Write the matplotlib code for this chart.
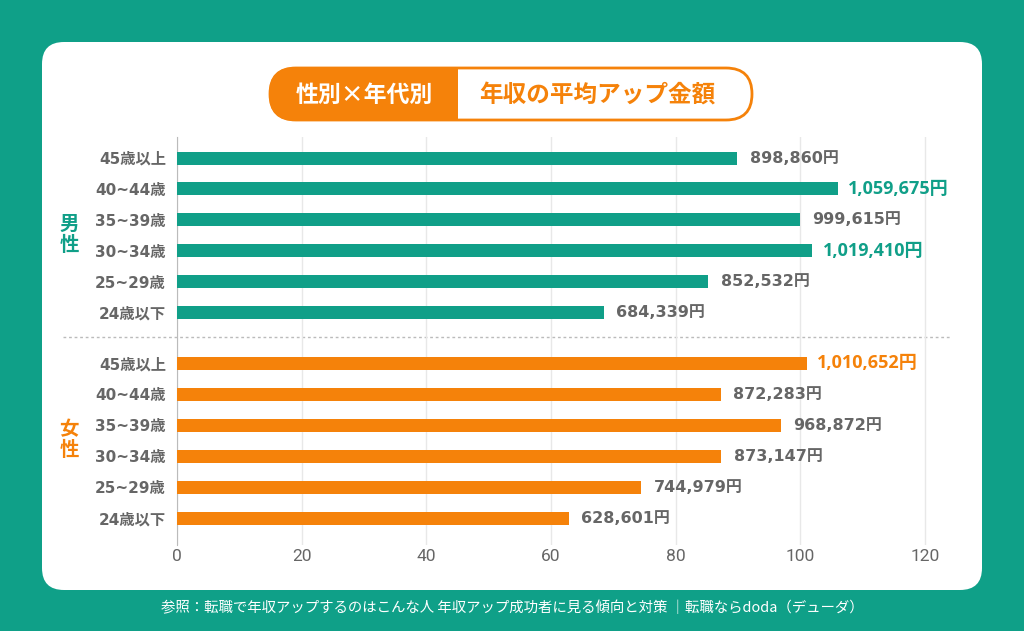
import matplotlib.pyplot as plt
from matplotlib.patches import FancyBboxPatch, Rectangle

plt.rcParams['font.family'] = ['Noto Sans CJK JP', 'DejaVu Sans']

# データ（円）
categories = ['45歳以上', '40~44歳', '35~39歳', '30~34歳', '25~29歳', '24歳以下']
male_values = [898860, 1059675, 999615, 1019410, 852532, 684339]
female_values = [1010652, 872283, 968872, 873147, 744979, 628601]
x_ticks = [0, 20, 40, 60, 80, 100, 120]

title_left = '性別×年代別'
title_right = '年収の平均アップ金額'
source = '参照：転職で年収アップするのはこんな人 年収アップ成功者に見る傾向と対策 ｜転職ならdoda（デューダ）'

teal = '#109f88'
bg_teal = '#0fa088'
orange = '#f5820a'
gray = '#666666'
wide_font = ['DejaVu Sans', 'Noto Sans CJK JP']
num_font = ['Open Sans', 'Noto Sans CJK JP']

fig = plt.figure(figsize=(10.24, 6.31), dpi=100)
fig.patch.set_facecolor(bg_teal)

# 背景（ピクセル座標）
bg = fig.add_axes([0, 0, 1, 1], zorder=0)
bg.set_xlim(0, 1024)
bg.set_ylim(631, 0)
bg.axis('off')
bg.add_patch(FancyBboxPatch((42, 42), 940, 548, boxstyle='round,pad=0,rounding_size=22',
                            facecolor='white', edgecolor='none'))

# タイトルのピル
bg.add_patch(FancyBboxPatch((270, 68), 482, 52, boxstyle='round,pad=0,rounding_size=26',
                            facecolor='white', edgecolor=orange, lw=2))
bg.add_patch(FancyBboxPatch((269, 67), 170, 54, boxstyle='round,pad=0,rounding_size=27',
                            facecolor=orange, edgecolor='none'))
bg.add_patch(Rectangle((410, 67), 48, 54, facecolor=orange, edgecolor='none'))
bg.text(364, 95, title_left, color='white', fontsize=16.5, fontweight='bold', ha='center', va='center')
bg.text(597, 95, title_right, color=orange, fontsize=17, fontweight='bold', ha='center', va='center')

# 区切り線
bg.plot([63, 950], [337, 337], color='#bbbbbb', lw=1, ls=(0, (2, 2)))

# 性別ラベル
bg.text(69, 235, '男\n性', color=teal, fontsize=14, fontweight='bold', ha='center', va='center', linespacing=1.15)
bg.text(69, 440, '女\n性', color=orange, fontsize=14, fontweight='bold', ha='center', va='center', linespacing=1.15)

bg.text(512, 608, source, color='white', fontsize=10.4, ha='center', va='center')

# メインのグラフ
ax = fig.add_axes([177 / 1024, 1 - 545 / 631, 773 / 1024, 408 / 631], zorder=1)
ax.set_facecolor('none')

n = len(categories)
gap = 1.645
male_pos = list(range(n))
female_pos = [n - 1 + gap + i for i in range(n)]

male_man = [v / 10000 for v in male_values]
female_man = [v / 10000 for v in female_values]

ax.barh(male_pos, male_man, height=0.42, color=teal, zorder=3)
ax.barh(female_pos, female_man, height=0.42, color=orange, zorder=3)

for pos, val, col in list(zip(male_pos, male_values, [teal] * n)) + list(zip(female_pos, female_values, [orange] * n)):
    if val >= 1000000:
        ax.text(val / 10000 + 1.6, pos, f'{val:,}円', family=num_font, color=col, fontsize=13,
                fontweight='bold', va='center', ha='left', zorder=4)
    else:
        ax.text(val / 10000 + 2, pos, f'{val:,}円', family=wide_font, color=gray, fontsize=11.5,
                fontweight='bold', va='center', ha='left', zorder=4)

ax.set_yticks(male_pos + female_pos)
ax.set_yticklabels(categories + categories, fontsize=11, fontweight='bold', color=gray, family=wide_font)
ax.set_xticks(x_ticks)
ax.set_xticklabels([str(t) for t in x_ticks], fontsize=12.5, color=gray, family=['Roboto'])
ax.tick_params(length=0)
ax.tick_params(axis='y', pad=8)
ax.tick_params(axis='x', pad=3)

ax.set_xlim(0, 124)
ax.set_ylim(female_pos[-1] + 0.87, -0.68)

ax.grid(axis='x', color='#e8e8e8', lw=1, zorder=0)
for s in ['top', 'right', 'bottom']:
    ax.spines[s].set_visible(False)
ax.spines['left'].set_color('#bbbbbb')

fig.savefig('out.png', dpi=100, facecolor=fig.get_facecolor())
